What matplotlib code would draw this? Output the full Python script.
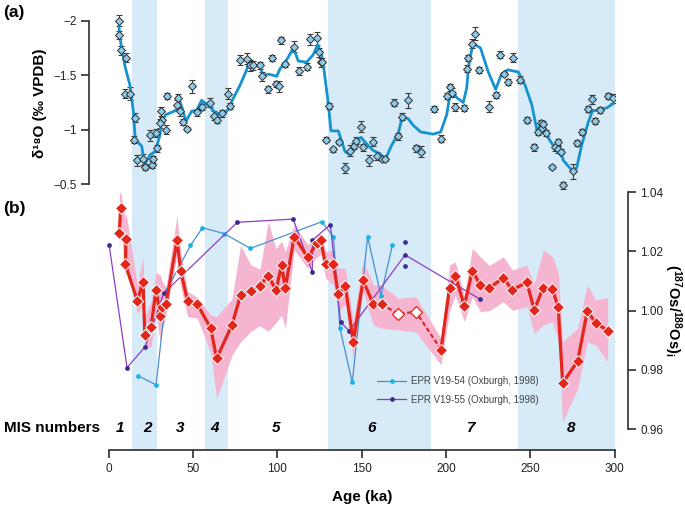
import numpy as np
import matplotlib
matplotlib.use('Agg')
import matplotlib.pyplot as plt
from matplotlib.lines import Line2D

plt.rcParams['font.family'] = ['Liberation Sans', 'DejaVu Sans']
plt.rcParams['axes.unicode_minus'] = True
plt.rcParams['mathtext.fontset'] = 'custom'
plt.rcParams['mathtext.rm'] = 'Liberation Sans'
plt.rcParams['mathtext.bf'] = 'Liberation Sans:bold'
plt.rcParams['mathtext.it'] = 'Liberation Sans:italic'

# ---------------- data ----------------
mis_bands = [(14, 29), (57, 71), (130, 191), (243, 300)]
mis_labels = ['1', '2', '3', '4', '5', '6', '7', '8']
mis_label_x = [6.8, 23.2, 42.3, 63.1, 99.5, 156.0, 214.7, 274.2]

# panel (a) d18O points
d18o_age = [6.2, 6.4, 7.2, 10.2, 9.8, 12.9, 15.5, 14.9, 16.9, 20.4, 21.4, 24.4, 25.6, 26.6,
            28.3, 28.5, 30.9, 31.5, 30.5, 34.1, 34.5, 41.0, 40.8, 42.4, 44.0, 46.7, 49.7,
            52.7, 55.2, 60.3, 62.5, 64.1, 67.5, 70.6, 72.2, 78.1, 82.3, 83.9, 85.7, 89.6,
            91.2, 94.3, 97.1, 99.1, 100.9, 102.5, 104.8, 109.8, 112.9, 117.7, 119.4, 123.4,
            124.6, 126.0, 126.8, 130.7, 129.1, 133.3, 136.4, 140.4, 143.2, 145.3, 146.7,
            149.7, 150.9, 154.2, 157.0, 159.2, 161.9, 164.1, 169.4, 171.6, 174.2, 177.7,
            182.1, 185.2, 192.9, 197.3, 200.5, 202.4, 203.8, 205.6, 210.9, 212.7, 213.1,
            215.5, 217.3, 219.8, 225.7, 229.7, 231.9, 234.3, 237.0, 239.6, 243.7, 248.1,
            252.4, 254.8, 256.2, 256.8, 257.7, 259.2, 263.1, 264.8, 266.2, 266.6, 268.2,
            269.4, 275.3, 277.9, 280.9, 284.0, 286.4, 288.6, 291.5, 296.1, 299.3]
d18o_val = [-2.00, -1.87, -1.73, -1.66, -1.33, -1.33, -1.11, -0.91, -0.72, -0.73, -0.66, -0.95,
            -0.68, -0.73, -0.97, -0.83, -1.17, -1.09, -1.06, -1.00, -1.31, -1.29, -1.23, -1.17,
            -1.07, -1.01, -1.40, -1.16, -1.21, -1.25, -1.13, -1.09, -1.15, -1.33, -1.22, -1.64,
            -1.65, -1.59, -1.59, -1.59, -1.49, -1.37, -1.66, -1.42, -1.40, -1.82, -1.60, -1.76,
            -1.54, -1.58, -1.83, -1.84, -1.71, -1.62, -1.62, -1.22, -0.91, -0.82, -0.89, -0.65,
            -0.81, -0.85, -0.90, -1.03, -0.84, -0.72, -0.89, -0.76, -0.73, -0.73, -1.25, -0.94,
            -1.12, -1.27, -0.83, -0.80, -1.19, -0.92, -1.31, -1.39, -1.34, -1.21, -1.20, -1.56,
            -1.66, -1.79, -1.88, -1.55, -1.21, -1.32, -1.69, -1.51, -1.44, -1.66, -1.46, -1.09,
            -0.84, -0.98, -1.06, -1.02, -1.05, -0.97, -0.66, -0.84, -0.89, -0.82, -0.80, -0.49,
            -0.62, -0.88, -0.98, -1.19, -1.28, -1.08, -1.18, -1.31, -1.29]
d18o_err = [0.05, 0.04, 0.04, 0.04, 0.04, 0.06, 0.04, 0.03, 0.05, 0.05, 0.03, 0.05, 0.03, 0.03,
            0.04, 0.03, 0.04, 0.03, 0.04, 0.04, 0.03, 0.04, 0.04, 0.04, 0.03, 0.02, 0.06,
            0.03, 0.03, 0.04, 0.04, 0.03, 0.03, 0.05, 0.03, 0.05, 0.05, 0.05, 0.04, 0.03,
            0.04, 0.03, 0.03, 0.03, 0.05, 0.03, 0.02, 0.05, 0.04, 0.03, 0.05, 0.06,
            0.04, 0.04, 0.04, 0.03, 0.02, 0.02, 0.02, 0.05, 0.05, 0.03, 0.03,
            0.05, 0.03, 0.05, 0.04, 0.04, 0.02, 0.02, 0.03, 0.03, 0.03, 0.07,
            0.03, 0.05, 0.03, 0.03, 0.03, 0.03, 0.04, 0.04, 0.03, 0.03, 0.03,
            0.04, 0.06, 0.03, 0.05, 0.03, 0.03, 0.02, 0.03, 0.04, 0.03, 0.03,
            0.03, 0.03, 0.03, 0.03, 0.03, 0.03, 0.02, 0.03, 0.03, 0.03, 0.02,
            0.03, 0.07, 0.03, 0.03, 0.03, 0.04, 0.03, 0.03, 0.03, 0.04]

# panel (a) smoothed curve
smooth_age = [6.2, 6.8, 9.8, 12.7, 14.7, 15.9, 19.7, 21.4, 24.6, 27.6, 30.5, 31.5, 34.1, 40.4,
              42.4, 45.9, 49.3, 52.3, 55.2, 60.2, 63.1, 66.1, 68.5, 71.5, 73.0, 78.0, 81.9,
              83.3, 86.8, 89.6, 91.8, 94.7, 97.7, 99.7, 101.7, 105.6, 109.6, 112.5, 117.5,
              121.4, 124.0, 126.4, 127.9, 129.9, 131.9, 136.2, 140.2, 143.5, 146.1, 149.7,
              153.0, 157.0, 160.9, 164.1, 167.9, 171.8, 174.2, 177.7, 180.7, 185.1, 192.5,
              196.9, 200.5, 202.4, 203.4, 206.8, 210.3, 212.3, 213.5, 215.9, 217.3, 220.5,
              225.1, 229.5, 232.7, 236.6, 242.9, 246.9, 250.9, 253.8, 256.4, 259.7, 264.7,
              269.0, 269.6, 274.6, 277.5, 280.5, 284.4, 286.8, 291.3, 295.3, 299.2]
smooth_val = [-1.95, -1.84, -1.58, -1.41, -1.17, -0.91, -0.85, -0.68, -0.77, -0.80, -0.95, -1.09,
              -1.14, -1.18, -1.26, -1.08, -1.17, -1.18, -1.27, -1.21, -1.16, -1.14, -1.14, -1.20,
              -1.26, -1.41, -1.55, -1.62, -1.59, -1.58, -1.50, -1.51, -1.50, -1.49, -1.56, -1.64,
              -1.75, -1.63, -1.62, -1.69, -1.78, -1.69, -1.53, -1.29, -0.99, -0.99, -0.80, -0.77,
              -0.90, -0.93, -0.87, -0.81, -0.78, -0.73, -0.86, -0.97, -1.12, -1.10, -1.04, -0.98,
              -0.96, -0.98, -1.14, -1.32, -1.35, -1.29, -1.25, -1.38, -1.59, -1.78, -1.78, -1.75,
              -1.53, -1.37, -1.50, -1.55, -1.53, -1.41, -1.23, -1.01, -1.03, -0.95, -0.83, -0.75,
              -0.72, -0.63, -0.65, -0.86, -1.07, -1.17, -1.19, -1.20, -1.24]

# panel (b) Os isotope record (plot order)
os_age = [7.2, 6.4, 10.4, 10.0, 17.1, 20.5, 21.5, 25.2, 28.2, 30.7, 31.7, 34.1, 40.6, 42.8,
          46.9, 52.6, 60.6, 64.1, 73.2, 78.3, 84.3, 89.8, 94.7, 99.3, 102.6, 104.8, 110.1,
          118.1, 123.4, 125.8, 128.7, 133.3, 136.2, 140.4, 145.1, 150.9, 157.0, 161.9, 171.8,
          182.1, 197.1, 202.2, 205.6, 210.9, 215.7, 220.4, 225.7, 234.0, 239.4, 247.9, 252.4,
          257.7, 263.1, 266.6, 269.2, 278.1, 283.8, 288.8, 295.9]
os_val = [1.0347, 1.0262, 1.0242, 1.0156, 1.0033, 1.0098, 0.9918, 0.9946, 1.0070, 0.9983,
          1.0011, 1.0022, 1.0237, 1.0134, 1.0033, 1.0022, 0.9941, 0.9839, 0.9952, 1.0053,
          1.0066, 1.0084, 1.0118, 1.0069, 1.0154, 1.0076, 1.0250, 1.0180, 1.0227, 1.0238,
          1.0156, 1.0159, 1.0055, 1.0083, 0.9895, 1.0102, 1.0022, 1.0022, 0.9988, 0.9997,
          0.9869, 1.0078, 1.0118, 1.0017, 1.0134, 1.0087, 1.0076, 1.0111, 1.0070, 1.0096,
          1.0003, 1.0078, 1.0073, 1.0012, 0.9756, 0.9830, 0.9999, 0.9959, 0.9933]
os_lo = [1.029, 1.020, 1.016, 1.0115, 0.999, 1.002, 0.987, 0.988, 0.9985, 0.9895, 0.993,
         0.9985, 1.019, 1.008, 0.998, 0.9975, 0.986, 0.9705, 0.985, 0.9895, 0.993, 0.995,
         0.993, 0.996, 0.9985, 0.994, 1.0205, 1.0143, 1.018, 1.019, 1.011, 1.0087, 0.9997,
         1.002, 0.984, 1.0064, 0.9952, 0.9941, 0.9935, 0.9929, 0.9817, 0.9998, 1.0053,
         0.9963, 1.0047, 0.9997, 1.000, 1.003, 1.0002, 1.0013, 0.9924, 0.9952, 0.9963,
         0.990, 0.9626, 0.9738, 0.9895, 0.9884, 0.9828]
os_hi = [1.040, 1.0396, 1.033, 1.031, 1.0087, 1.018, 0.998, 1.003, 1.013, 1.012, 1.010,
         1.008, 1.032, 1.020, 1.0065, 1.0045, 0.9985, 0.998, 1.004, 1.022, 1.0155, 1.014,
         1.030, 1.021, 1.0235, 1.020, 1.029, 1.0222, 1.0255, 1.026, 1.020, 1.0205, 1.0143,
         1.0143, 0.9963, 1.017, 1.0087, 1.0085, 1.0042, 1.0047, 0.9907, 1.0154, 1.0165,
         1.0053, 1.021, 1.0182, 1.0152, 1.0182, 1.0137, 1.0154, 1.009, 1.0205, 1.0182,
         1.013, 0.9895, 0.9941, 1.0087, 1.0036, 1.0044]
os_open = [171.8, 182.1]          # open (white) symbols
os_dashed_from, os_dashed_to = 161.9, 197.1

# Oxburgh (1998) records
v1954_age = [17.7, 28.2, 34.5, 48.6, 55.7, 68.5, 84.1, 126.4, 133.3, 137.2, 144.5, 153.6, 161.5, 168.2]
v1954_val = [0.978, 0.975, 1.007, 1.022, 1.028, 1.026, 1.021, 1.030, 1.025, 0.994, 0.9758, 1.025, 1.005, 1.022]
v1955_age = [0.4, 11.0, 21.8, 32.7, 76.3, 109.5, 120.8, 120.9, 131.5, 137.6, 142.7, 175.8, 220.2]
v1955_val = [1.022, 0.9808, 0.9879, 1.0059, 1.0298, 1.0309, 1.0130, 1.0238, 1.0290, 0.9961, 0.9932, 1.0188, 1.0039]
v1955_extra_age = [175.8, 175.8]
v1955_extra_val = [1.0230, 1.0150]

x_ticks = [0, 50, 100, 150, 200, 250, 300]
a_ticks = [-2, -1.5, -1, -0.5]
a_ticklabels = ['\u22122', '\u22121.5', '\u22121', '\u22120.5']
b_ticks = [0.96, 0.98, 1.00, 1.02, 1.04]

# ---------------- style ----------------
band_c = '#D6EAF7'
pink_c = '#F5B5D1'
red_c = '#E2261C'
blue_line_c = '#1592D0'
mk_face = '#8DCBEA'
dark = '#2E2E2E'
c54_line, c54_mk = '#4A8FD2', '#16B4E8'
c55_line, c55_mk = '#8B3FC6', '#3B2A90'

W, H = 685, 507
fig = plt.figure(figsize=(W / 100, H / 100), dpi=100)

def fx(px):
    return px / W

def fy(py):
    return 1 - py / H

X0, X1 = 108.5, 614.6
AXIS_Y = 450

# background MIS bands
bg = fig.add_axes([fx(X0), fy(AXIS_Y), fx(X1) - fx(X0), fy(0) - fy(AXIS_Y)], zorder=0)
bg.set_xlim(0, 300)
bg.set_ylim(0, 1)
bg.axis('off')
for a, b in mis_bands:
    bg.axvspan(a, b, color=band_c, lw=0)

# ---- panel (b) axes (also carries the x axis)
axb = fig.add_axes([fx(X0), fy(AXIS_Y), fx(X1) - fx(X0), fy(185) - fy(AXIS_Y)], zorder=1)
axb.patch.set_visible(False)
axb.set_xlim(0, 300)
axb.set_ylim(0.95302, 1.04239)
for s in ['top', 'left']:
    axb.spines[s].set_visible(False)
for s in ['bottom', 'right']:
    axb.spines[s].set_color(dark)
    axb.spines[s].set_linewidth(1.2)
axb.spines['bottom'].set_bounds(0, 300)
axb.spines['right'].set_bounds(0.96, 1.04)
axb.spines['right'].set_position(('outward', 9.6))
axb.yaxis.tick_right()
axb.set_yticks(b_ticks)
axb.set_yticklabels(['%.2f' % v for v in b_ticks])
axb.set_xticks(x_ticks)
axb.tick_params(axis='both', colors=dark, labelcolor='#222', labelsize=8.5,
                length=5.5, width=1.2, direction='out')
axb.tick_params(axis='x', pad=4)

order = np.argsort(os_age, kind='stable')
fa = np.array(os_age)[order]
axb.fill_between(fa, np.array(os_lo)[order], np.array(os_hi)[order],
                 color=pink_c, lw=0, zorder=1)

axb.plot(v1954_age, v1954_val, color=c54_line, lw=0.9, marker='o', ms=2.4,
         mfc=c54_mk, mec=c54_mk, zorder=2, clip_on=False)
axb.plot(v1955_age, v1955_val, color=c55_line, lw=0.9, marker='o', ms=2.4,
         mfc=c55_mk, mec=c55_mk, zorder=2, clip_on=False)
axb.plot(v1955_extra_age, v1955_extra_val, ls='none', marker='o', ms=2.4,
         mfc=c55_mk, mec=c55_mk, zorder=2)

age = np.array(os_age)
val = np.array(os_val)
i0 = int(np.where(age == os_dashed_from)[0][0])
i1 = int(np.where(age == os_dashed_to)[0][0])
axb.plot(age[:i0 + 1], val[:i0 + 1], color=red_c, lw=2.3, zorder=3)
axb.plot(age[i1:], val[i1:], color=red_c, lw=2.3, zorder=3)
axb.plot(age[i0:i1 + 1], val[i0:i1 + 1], color=red_c, lw=1.6, ls=(0, (2, 1.2)), zorder=3)
is_open = np.isin(age, os_open)
axb.plot(age[~is_open], val[~is_open], ls='none', marker='D', ms=5.8, mfc=red_c,
         mec='white', mew=0.7, zorder=4, clip_on=False)
axb.plot(age[is_open], val[is_open], ls='none', marker='D', ms=6.3, mfc='white',
         mec=red_c, mew=0.9, zorder=4)

h54 = Line2D([], [], color=c54_line, lw=0.9, marker='o', ms=2.4, mfc=c54_mk, mec=c54_mk)
h55 = Line2D([], [], color=c55_line, lw=0.9, marker='o', ms=2.4, mfc=c55_mk, mec=c55_mk)
axb.legend([h54, h55], ['EPR V19-54 (Oxburgh, 1998)', 'EPR V19-55 (Oxburgh, 1998)'],
           loc='upper left', bbox_to_anchor=(fx(377), fy(376)), bbox_transform=fig.transFigure,
           frameon=False, fontsize=7, handlelength=3.0, handletextpad=0.45,
           labelspacing=0.9, labelcolor='#444', borderpad=0, borderaxespad=0)

# ---- panel (a) axes
axa = fig.add_axes([fx(X0), fy(195), fx(X1) - fx(X0), fy(0) - fy(195)], zorder=2)
axa.patch.set_visible(False)
axa.set_xlim(0, 300)
axa.set_ylim(-0.4024, -2.1897)
for s in ['top', 'right', 'bottom']:
    axa.spines[s].set_visible(False)
axa.spines['left'].set_position(('outward', 14))
axa.spines['left'].set_bounds(-2, -0.5)
axa.spines['left'].set_color(dark)
axa.spines['left'].set_linewidth(1.2)
axa.set_xticks([])
axa.set_yticks(a_ticks)
axa.set_yticklabels(a_ticklabels)
axa.tick_params(axis='y', colors=dark, labelcolor='#222', labelsize=8.5,
                length=5.5, width=1.2, direction='out')

axa.errorbar(d18o_age, d18o_val, yerr=d18o_err, fmt='none', ecolor='#3a3a3a',
             elinewidth=0.8, capsize=2, capthick=0.8, zorder=2)
axa.plot(smooth_age, smooth_val, color=blue_line_c, lw=2.0, zorder=3)
axa.plot(d18o_age, d18o_val, ls='none', marker='D', ms=4.2, mfc=mk_face, mec=dark,
         mew=0.7, zorder=4)

# ---- texts
fig.text(fx(3), fy(13), '(a)', fontsize=12.5, fontweight='bold', ha='left', va='center')
fig.text(fx(3), fy(208), '(b)', fontsize=12.5, fontweight='bold', ha='left', va='center')
fig.text(fx(40), fy(103), 'δ¹⁸O (‰ VPDB)', rotation=90, fontsize=11, fontweight='bold',
         ha='center', va='center')
fig.text(fx(673), fy(310), r'$\mathbf{(^{187}Os/^{188}Os)_{i}}$', rotation=270,
         fontsize=10.5, ha='center', va='center')
fig.text(fx(4.5), fy(428), 'MIS numbers', fontsize=11, fontweight='bold',
         ha='left', va='center')
ymis = (AXIS_Y - 428) / AXIS_Y
for lab, xm in zip(mis_labels, mis_label_x):
    bg.text(xm, ymis, lab, fontsize=11, fontweight='bold', style='italic',
            ha='center', va='center')
fig.text(fx(362), fy(497), 'Age (ka)', fontsize=11, fontweight='bold',
         ha='center', va='center')

fig.savefig('out.png', dpi=100)
